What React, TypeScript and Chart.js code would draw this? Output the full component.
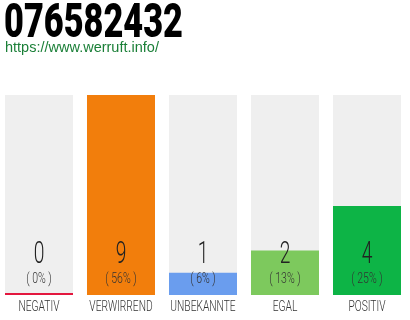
import React, { useEffect, useRef } from "react";
import { Chart, registerables } from "chart.js";

Chart.register(...registerables);

// Vote categories and counts for the number
const categories = ["NEGATIV", "VERWIRREND", "UNBEKANNTE", "EGAL", "POSITIV"];
const counts = [0, 9, 1, 2, 4];
const barColors = ["#e3173e", "#f27e0c", "#6a9dee", "#7dc95d", "#0db446"];
const trackColor = "#efefef";

const phoneNumber = "076582432";
const siteUrl = "https://www.werruft.info/";

const total = counts.reduce((a, b) => a + b, 0);
const maxCount = Math.max(...counts);
const trackValues = categories.map(() => maxCount);

function drawCondensed(
  ctx: CanvasRenderingContext2D,
  text: string,
  x: number,
  y: number,
  font: string,
  color: string,
  sx: number
) {
  ctx.save();
  ctx.translate(x, y);
  ctx.scale(sx, 1);
  ctx.font = font;
  ctx.fillStyle = color;
  ctx.textAlign = "center";
  ctx.textBaseline = "alphabetic";
  ctx.fillText(text, 0, 0);
  ctx.restore();
}

const valueLabels = {
  id: "valueLabels",
  afterDatasetsDraw(chart: any) {
    const ctx = chart.ctx as CanvasRenderingContext2D;
    const xs = chart.scales.x;
    const bottom = chart.chartArea.bottom;
    counts.forEach((v, i) => {
      const x = xs.getPixelForValue(i);
      const pct = total ? Math.round((v / total) * 100) : 0;
      drawCondensed(ctx, String(v), x, bottom - 32, "300 31px Roboto", "#222", 0.62);
      drawCondensed(ctx, `( ${pct}% )`, x, bottom - 12, "300 14px Roboto", "#333", 0.75);
      drawCondensed(ctx, categories[i], x, bottom + 16, "300 15.5px Roboto", "#333", 0.66);
    });
  },
};

export default function App() {
  const canvasRef = useRef<HTMLCanvasElement | null>(null);

  useEffect(() => {
    if (!canvasRef.current) return;
    const chart = new Chart(canvasRef.current, {
      type: "bar",
      data: {
        labels: categories,
        datasets: [
          {
            data: counts,
            backgroundColor: barColors,
            minBarLength: 2,
            grouped: false,
            order: 1,
            barPercentage: 0.8293,
            categoryPercentage: 1,
          },
          {
            data: trackValues,
            backgroundColor: trackColor,
            grouped: false,
            order: 2,
            barPercentage: 0.8293,
            categoryPercentage: 1,
          },
        ],
      },
      options: {
        responsive: false,
        animation: false,
        layout: { padding: { top: 95, bottom: 25, left: 0, right: 2 } },
        plugins: { legend: { display: false }, tooltip: { enabled: false } },
        scales: {
          x: { display: false },
          y: { display: false, min: 0, max: maxCount },
        },
      },
      plugins: [valueLabels],
    });
    return () => chart.destroy();
  }, []);

  return (
    <div
      style={{
        position: "fixed",
        left: 0,
        top: 0,
        width: 410,
        height: 320,
        background: "#fff",
        overflow: "hidden",
      }}
    >
      <canvas
        ref={canvasRef}
        width={412}
        height={320}
        style={{ position: "absolute", left: -2, top: 0, width: 412, height: 320 }}
      />
      <div
        style={{
          position: "absolute",
          left: 4,
          top: -4,
          fontFamily: "Roboto",
          fontWeight: 900,
          fontSize: 49,
          lineHeight: "49px",
          color: "#000",
          whiteSpace: "nowrap",
          transform: "scaleX(0.70)",
          transformOrigin: "0 0",
        }}
      >
        {phoneNumber}
      </div>
      <div
        style={{
          position: "absolute",
          left: 5,
          top: 39,
          fontFamily: "'Liberation Sans', Arial, sans-serif",
          fontSize: 14.5,
          lineHeight: "17px",
          color: "#1a7f37",
          whiteSpace: "nowrap",
        }}
      >
        {siteUrl}
      </div>
    </div>
  );
}
